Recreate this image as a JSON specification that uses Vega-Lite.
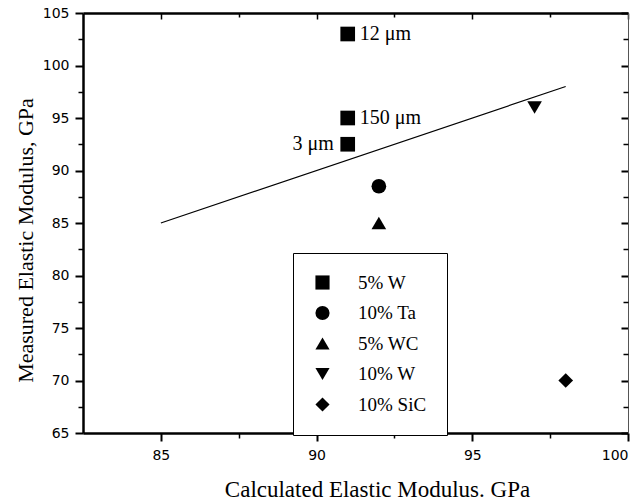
{
  "$schema": "https://vega.github.io/schema/vega-lite/v6.json",
  "width": 545,
  "height": 420,
  "autosize": {"type": "none"},
  "padding": {"left": 83, "top": 13, "right": 13, "bottom": 67},
  "background": "white",
  "config": {
    "view": {"stroke": null},
    "axis": {"domainColor": "black", "tickColor": "black", "labelColor": "black", "titleColor": "black", "grid": false}
  },
  "datasets": {
    "fit": [{"calc": 85, "meas": 85}, {"calc": 98, "meas": 98}],
    "pts": [
      {"material": "5% W", "calc": 91, "meas": 103, "label": "12 μm"},
      {"material": "5% W", "calc": 91, "meas": 95, "label": "150 μm"},
      {"material": "5% W", "calc": 91, "meas": 92.5, "label": "3 μm"},
      {"material": "10% Ta", "calc": 92, "meas": 88.5, "label": ""},
      {"material": "5% WC", "calc": 92, "meas": 85, "label": ""},
      {"material": "10% W", "calc": 97, "meas": 96, "label": ""},
      {"material": "10% SiC", "calc": 98, "meas": 70, "label": ""}
    ]
  },
  "resolve": {"axis": {"x": "independent", "y": "independent"}},
  "layer": [
    {
      "data": {"name": "fit"},
      "mark": {"type": "line", "color": "black", "strokeWidth": 1.2},
      "encoding": {
        "x": {"field": "calc", "type": "quantitative",
          "scale": {"domain": [82.5, 100], "nice": false, "zero": false},
          "axis": {"orient": "bottom", "values": [85, 90, 95, 100], "tickSize": 8, "tickWidth": 2, "domainWidth": 2.5,
            "labelFont": "DejaVu Sans", "labelFontSize": 14, "labelPadding": 7,
            "title": "Calculated Elastic Modulus. GPa", "titleFont": "Liberation Serif", "titleFontSize": 23, "titleFontWeight": "normal",
            "titleX": 294, "titleY": 63, "titleAlign": "center", "titleBaseline": "alphabetic"}},
        "y": {"field": "meas", "type": "quantitative",
          "scale": {"domain": [65, 105], "nice": false, "zero": false},
          "axis": {"orient": "left", "values": [65, 70, 75, 80, 85, 90, 95, 100, 105], "tickSize": 8, "tickWidth": 2, "domainWidth": 2.5,
            "labelFont": "DejaVu Sans", "labelFontSize": 14, "labelPadding": 6,
            "title": "Measured Elastic Modulus, GPa", "titleFont": "Liberation Serif", "titleFontSize": 22, "titleFontWeight": "normal",
            "titleX": -51, "titleY": 227, "titleAngle": -90, "titleAlign": "center", "titleBaseline": "alphabetic"}}
      }
    },
    {
      "data": {"name": "pts"},
      "mark": {"type": "point", "filled": true, "size": 215, "opacity": 1},
      "encoding": {
        "x": {"field": "calc", "type": "quantitative",
          "axis": {"orient": "bottom", "values": [87.5, 92.5, 97.5], "tickSize": 5, "tickWidth": 1.5, "domain": false, "labels": false, "title": null}},
        "y": {"field": "meas", "type": "quantitative",
          "axis": {"orient": "left", "values": [67.5, 72.5, 77.5, 82.5, 87.5, 92.5, 97.5, 102.5], "tickSize": 5, "tickWidth": 1.5, "domain": false, "labels": false, "title": null}},
        "shape": {"field": "material", "type": "nominal",
          "scale": {"domain": ["5% W", "10% Ta", "5% WC", "10% W", "10% SiC"],
                    "range": ["square", "circle", "triangle-up", "triangle-down", "diamond"]},
          "legend": {"orient": "none", "legendX": 210, "legendY": 240, "title": null,
            "strokeColor": "black", "fillColor": "white", "padding": 20,
            "symbolSize": 200, "symbolFillColor": "black", "symbolStrokeColor": "black", "symbolStrokeWidth": 0,
            "labelFont": "Liberation Serif", "labelFontSize": 19, "labelColor": "black", "labelOffset": 26,
            "rowPadding": 10.5}},
        "color": {"value": "black"}
      }
    },
    {
      "data": {"name": "pts"},
      "transform": [{"filter": "datum.label === '12 μm' || datum.label === '150 μm'"}],
      "mark": {"type": "text", "align": "left", "baseline": "middle", "dx": 12, "font": "Liberation Serif", "fontSize": 20, "color": "black"},
      "encoding": {
        "x": {"field": "calc", "type": "quantitative",
          "axis": {"orient": "top", "values": [85, 90, 95, 100], "tickSize": -6, "tickWidth": 1.5, "domainWidth": 2.5, "labels": false, "title": null}},
        "y": {"field": "meas", "type": "quantitative",
          "axis": {"orient": "right", "values": [65, 70, 75, 80, 85, 90, 95, 100, 105], "tickSize": -7, "tickWidth": 2, "domainWidth": 1, "domainColor": "#555", "labels": false, "title": null}},
        "text": {"field": "label"}
      }
    },
    {
      "data": {"name": "pts"},
      "transform": [{"filter": "datum.label === '3 μm'"}],
      "mark": {"type": "text", "align": "right", "baseline": "middle", "dx": -14, "font": "Liberation Serif", "fontSize": 20, "color": "black"},
      "encoding": {
        "x": {"field": "calc", "type": "quantitative",
          "axis": {"orient": "top", "values": [87.5, 92.5, 97.5], "tickSize": -4, "tickWidth": 1.5, "domain": false, "labels": false, "title": null}},
        "y": {"field": "meas", "type": "quantitative",
          "axis": {"orient": "right", "values": [67.5, 72.5, 77.5, 82.5, 87.5, 92.5, 97.5, 102.5], "tickSize": -5, "tickWidth": 1.5, "domain": false, "labels": false, "title": null}},
        "text": {"field": "label"}
      }
    }
  ]
}
